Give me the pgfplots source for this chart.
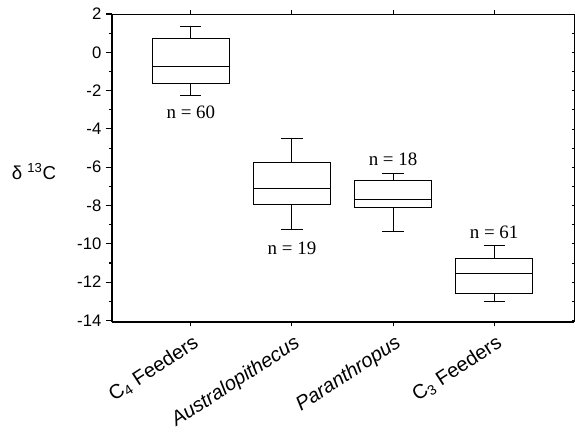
\documentclass[border=0pt]{standalone}
\usepackage{fontspec}
\setmainfont{Liberation Sans}
\newfontfamily\seriffont{Liberation Serif}
\usepackage{pgfplots}
\pgfplotsset{compat=1.18}
\usepgfplotslibrary{statistics}
\newlength\px
\setlength\px{0.75pt}
\begin{document}
\begin{tikzpicture}
\useasboundingbox (0,0) rectangle (575\px,436\px);
\pgfplotsset{frame/.style={at={(112\px,114\px)}, anchor=south west, scale only axis,
  width=462\px, height=308\px, xmin=-0.78, xmax=3.79, ymin=-14.08, ymax=2},
  bx/.style={black, line width=0.75pt, solid, mark=none, boxplot/draw direction=y}}
\begin{axis}[frame,
  axis x line*=bottom, axis y line*=left,
  axis line style={line width=1.1pt, black},
  xtick={0,1,2,3},
  xticklabels={C\textsubscript{4} Feeders, \textit{Australopithecus}, \textit{Paranthropus}, C\textsubscript{3} Feeders},
  xtick style={draw=none},
  x tick label style={rotate=33, anchor=north east, font=\fontsize{15}{18}\selectfont, inner sep=1pt, xshift=-1\px, yshift=-4\px},
  ytick={-14,-12,...,2},
  yticklabels={-14,-12,-10,-8,-6,-4,-2,0,2},
  minor ytick={-13,-11,...,1},
  tick align=outside, major tick length=6\px, minor tick length=3\px,
  y tick label style={font=\fontsize{12.5}{14}\selectfont},
  ytick style={line width=0.8pt, black},
  ylabel={δ \textsuperscript{13}C},
  ylabel style={rotate=-90, at={(axis description cs:-0.169,0.487)}, anchor=center, font=\fontsize{14}{16}\selectfont},
  clip=false,
]
\addplot[bx, boxplot prepared={draw position=0,
  median=-0.73, upper quartile=0.70, lower quartile=-1.65, upper whisker=1.35, lower whisker=-2.24,
  box extend=0.76, whisker extend=0.21}] coordinates {};
\addplot[bx, boxplot prepared={draw position=1,
  median=-7.10, upper quartile=-5.76, lower quartile=-7.92, upper whisker=-4.49, lower whisker=-9.27,
  box extend=0.76, whisker extend=0.21}] coordinates {};
\addplot[bx, boxplot prepared={draw position=2,
  median=-7.67, upper quartile=-6.68, lower quartile=-8.10, upper whisker=-6.33, lower whisker=-9.35,
  box extend=0.76, whisker extend=0.21}] coordinates {};
\addplot[bx, boxplot prepared={draw position=3,
  median=-11.53, upper quartile=-10.78, lower quartile=-12.61, upper whisker=-10.10, lower whisker=-13.02,
  box extend=0.76, whisker extend=0.21}] coordinates {};
\begin{scope}[every node/.style={font=\seriffont\fontsize{14.2}{16}\selectfont, anchor=base, inner sep=0pt}]
\node at (axis cs:0,-3.43) {n = 60};
\node at (axis cs:1,-10.56) {n = 19};
\node at (axis cs:2,-5.90) {n = 18};
\node at (axis cs:3,-9.73) {n = 61};
\end{scope}
\end{axis}
\begin{axis}[frame,
  axis x line=box, axis y line=none,
  axis line style={line width=0.6pt, black},
  xtick={0,1,2,3}, xticklabels={},
  ytick=\empty,
  tick align=outside, major tick length=3.5\px,
  xtick style={line width=0.7pt, black},
]
\end{axis}
\begin{axis}[frame,
  axis x line=none, axis y line*=right,
  axis line style={line width=0.6pt, black},
  xtick=\empty,
  ytick={-14,-13,...,2}, yticklabels={},
  tick align=inside, major tick length=2.5\px,
  ytick style={line width=0.6pt, black},
]
\end{axis}
\end{tikzpicture}
\end{document}
